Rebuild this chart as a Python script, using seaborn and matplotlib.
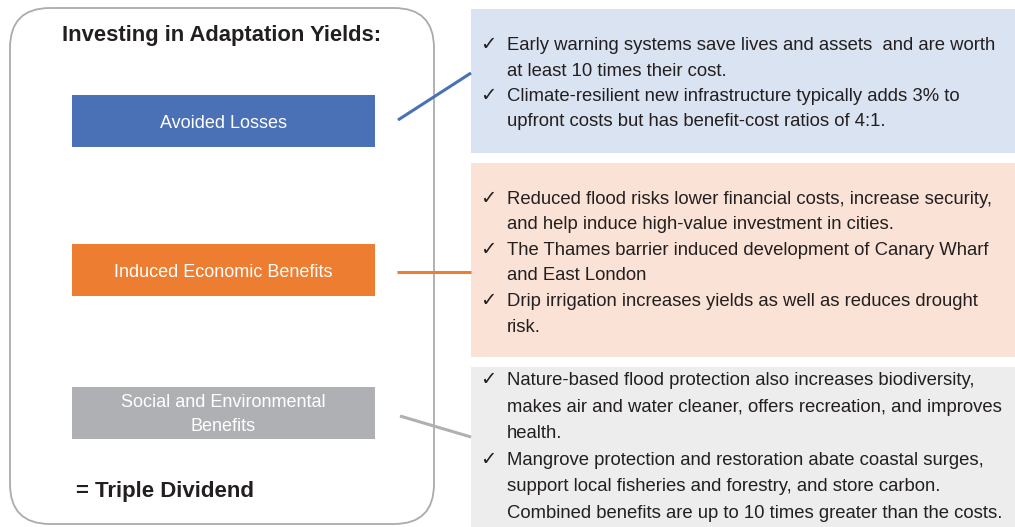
import matplotlib
matplotlib.use("Agg")
import matplotlib.pyplot as plt
import seaborn as sns
from matplotlib.patches import FancyBboxPatch, Rectangle
from matplotlib import font_manager

# ---- content ----
title_text = "Investing in Adaptation Yields:"
footer_text = "= Triple Dividend"
categories = ["Avoided Losses", "Induced Economic Benefits", "Social and Environmental\nBenefits"]
box_colors = ["#4A71B6", "#ED7D31", "#AFB0B4"]
panel_colors = ["#DAE3F1", "#FBE2D6", "#EDEDED"]
blue_bullets = [
    ["Early warning systems save lives and assets  and are worth", "at least 10 times their cost."],
    ["Climate-resilient new infrastructure typically adds 3% to", "upfront costs but has benefit-cost ratios of 4:1."],
]
orange_bullets = [
    ["Reduced flood risks lower financial costs, increase security,", "and help induce high-value investment in cities."],
    ["The Thames barrier induced development of Canary Wharf", "and East London"],
    ["Drip irrigation increases yields as well as reduces drought", "risk."],
]
gray_bullets = [
    ["Nature-based flood protection also increases biodiversity,",
     "makes air and water cleaner, offers recreation, and improves", "health."],
    ["Mangrove protection and restoration abate coastal surges,",
     "support local fisheries and forestry, and store carbon.",
     "Combined benefits are up to 10 times greater than the costs."],
]
bullets = [blue_bullets, orange_bullets, gray_bullets]

sns.set_theme(style="white")
names = {f.name for f in font_manager.fontManager.ttflist}
narrow = "Liberation Sans Narrow" if "Liberation Sans Narrow" in names else None
base = narrow or "Liberation Sans"
body_size = 14 if narrow else 13.3
plt.rcParams["font.family"] = [base, "DejaVu Sans"]

fig = plt.figure(figsize=(10.15, 5.27), dpi=100)
ax = fig.add_axes([0, 0, 1, 1])
ax.set_xlim(0, 1015)
ax.set_ylim(527, 0)
ax.axis("off")

txt_col = "#231F20"

# rounded frame
ax.add_patch(FancyBboxPatch((10, 8), 424, 516, boxstyle="round,pad=0,rounding_size=40",
                            fc="white", ec="#ABABAB", lw=1.3))
ax.text(222, 35, title_text, ha="center", va="center", fontsize=15.8, fontweight="bold", color=txt_col)
ax.text(76, 491, footer_text, ha="left", va="center", fontsize=16, fontweight="bold", color=txt_col)

# category boxes
box_tops = [95, 244, 387]
for lab, col, top in zip(categories, box_colors, box_tops):
    ax.add_patch(Rectangle((72, top), 303, 52, fc=col, ec="none"))
    yc = top + 28.5 if "\n" not in lab else top + 27.5
    ax.text(223.5, yc, lab, ha="center", va="center", fontsize=13.0, color="white",
            linespacing=1.5)

# panels
panels = [(9, 153), (163, 357), (367, 527)]
for (t, b), col in zip(panels, panel_colors):
    ax.add_patch(Rectangle((471, t), 544, b - t, fc=col, ec="none"))

# connectors
ax.plot([398, 471], [120, 73], color=box_colors[0], lw=2.2, solid_capstyle="butt")
ax.plot([397, 471], [272, 272], color=box_colors[1], lw=2.2, solid_capstyle="butt")
ax.plot([400, 471], [416, 437], color=box_colors[2], lw=2.2, solid_capstyle="butt")

# bullet texts
starts = [45.5, 199, 380.5]
steps = [25.5, 25.6, 26.6]
for group, y0, step in zip(bullets, starts, steps):
    y = y0
    for item in group:
        ax.text(488, y - 1, "\u2713", ha="center", va="center", fontsize=14, color=txt_col,
                family=["DejaVu Sans"])
        for line in item:
            ax.text(507, y, line, ha="left", va="center", fontsize=body_size, color=txt_col)
            y += step

fig.savefig("out.png", dpi=100)
